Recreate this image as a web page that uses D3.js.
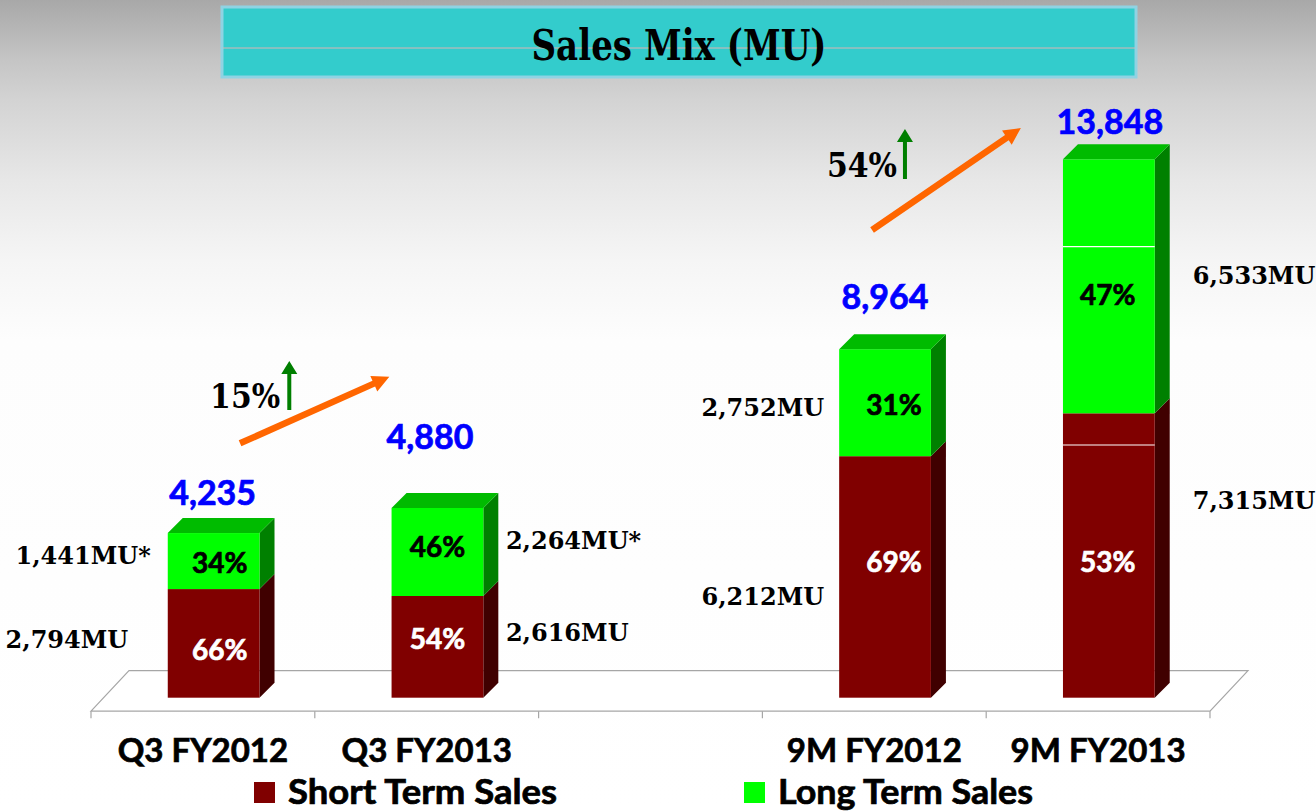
<!DOCTYPE html>
<html><head><meta charset="utf-8">
<script src="https://cdn.jsdelivr.net/npm/d3@7/dist/d3.min.js"></script>
<style>html,body{margin:0;padding:0;background:#fff;overflow:hidden}</style>
</head><body><svg id="chart" width="1316" height="811"></svg>
<script>
// ---------------- DATA ----------------
const title = "Sales Mix (MU)";
const categories = ["Q3 FY2012", "Q3 FY2013", "", "9M FY2012", "9M FY2013"];
const barCategories = ["Q3 FY2012", "Q3 FY2013", "9M FY2012", "9M FY2013"];
const seriesNames = ["Short Term Sales", "Long Term Sales"];
const shortTerm = [2794, 2616, 6212, 7315];
const longTerm = [1441, 2264, 2752, 6533];
const totals = [4235, 4880, 8964, 13848];
const totalLabels = ["4,235", "4,880", "8,964", "13,848"];
const shortPct = ["66%", "54%", "69%", "53%"];
const longPct = ["34%", "46%", "31%", "47%"];
const shortLabels = ["2,794MU", "2,616MU", "6,212MU", "7,315MU"];
const longLabels = ["1,441MU*", "2,264MU*", "2,752MU", "6,533MU"];
const growthLabels = ["15%", "54%"];
const growthFrom = ["Q3 FY2012", "9M FY2012"];
const growthTo = ["Q3 FY2013", "9M FY2013"];
const yDomain = [0, 14000];
const lastBarLines = [6500, 11600];

// ---------------- LAYOUT ----------------
const W = 1316, H = 811;
const colors = {
  redFront: "#800000", redSide: "#400000",
  greenFront: "#00ff00", greenSide: "#008000", greenTop: "#00bb00",
  blue: "#0000ff", orange: "#ff6600", upGreen: "#007f00"
};
const depth = { dx: 15, dy: -15 };
const sansFont = "Lato, 'Open Sans', sans-serif";
const serifFont = "'DejaVu Serif', serif";

// percent label offsets (from bar front center / segment middle)
const pctDx = [6, 0, 9, -1];
const pctDyLong = [12, 5, 12, 19];
const pctDyShort = [17, 2, -5, 16];
// MU label layout
const muSide = ["left", "right", "left", "right"];
const muGapLong = [17, 7.6, 15, 23];
const muGapShort = [39.5, 7.6, 15, 23];
const muDyLong = [3, -3, 13, -2];
const muDyShort = [5, -6, 28, -47];
// total labels
const totDx = [-1, -7.5, 0, 1];
const totRise = [27.7, 59, 40, 25];
// growth annotations (relative to bands / values)
const growthLayout = [
  { x0f: 0.666, v0: 6543, x1f: 0.333, v1: 8256, labelF: 0.845, labelV: 7451, upF: 0.886, upV0: 7400, upV1: 8660 },
  { x0f: 0.49, v0: 12029, x1f: 0.155, v1: 14653, labelF: 0.601, labelV: 13392, upF: 0.637, upV0: 13341, upV1: 14627 }
];

const svg = d3.select("#chart");

// background gradient
const defs = svg.append("defs");
const bg = defs.append("linearGradient").attr("id", "bg")
  .attr("gradientUnits", "userSpaceOnUse").attr("x1", 0).attr("y1", 0).attr("x2", 0).attr("y2", H);
[[0, "#a8a8a8"], [60, "#c5c5c5"], [100, "#d3d3d3"], [180, "#e7e7e7"], [260, "#f5f5f5"], [340, "#fdfdfd"], [811, "#ffffff"]]
  .forEach(([o, c]) => bg.append("stop").attr("offset", o / H).attr("stop-color", c));
svg.append("rect").attr("width", W).attr("height", H).attr("fill", "url(#bg)");

// title box
svg.append("rect").attr("x", 222).attr("y", 7).attr("width", 914).attr("height", 70)
  .attr("fill", "#33cccc").attr("stroke", "#8fd3e3").attr("stroke-width", 3);
svg.append("line").attr("x1", 223).attr("x2", 1135).attr("y1", 48).attr("y2", 48)
  .attr("stroke", "#d9b5b5").attr("stroke-width", 1);
svg.append("text").attr("x", 679).attr("y", 59.5).attr("text-anchor", "middle")
  .attr("font-family", serifFont).attr("font-weight", "bold").attr("font-size", 42)
  .attr("textLength", 295).attr("lengthAdjust", "spacingAndGlyphs")
  .attr("fill", "#000").text(title);

// scales
const x = d3.scaleBand().domain(categories).range([91, 1210]).paddingInner(0).paddingOuter(0);
const y = d3.scaleLinear().domain(yDomain).range([697.7, 153.4]);
const bw = x.bandwidth();
const barX = c => x(c) + bw * 0.343;
const barW = bw * 0.41;

// helper for heavy sans text
function sans(sel, size, fill) {
  return sel.attr("font-family", sansFont).attr("font-weight", "bold").attr("font-size", size)
    .attr("fill", fill).attr("stroke", fill).attr("stroke-width", 0.7).attr("paint-order", "stroke");
}

// floor
const fy = y(0) + 13.5, by = y(0) - 27, fdx = 38;
const [r0, r1] = x.range();
svg.append("path")
  .attr("d", `M${r0},${fy}L${r0 + fdx},${by}L${r1 + fdx},${by}L${r1},${fy}Z`)
  .attr("fill", "#ffffff").attr("stroke", "#a6a6a6").attr("stroke-width", 1.2);
const tickXs = categories.map(c => x(c)).concat([r1]);
svg.selectAll(".tick").data(tickXs).join("line")
  .attr("x1", d => d).attr("x2", d => d).attr("y1", fy).attr("y2", fy + 7)
  .attr("stroke", "#a6a6a6").attr("stroke-width", 1.2);

// bars
function box(g, x0, w, yb, yt, front, side, top) {
  const { dx, dy } = depth;
  g.append("path").attr("d", `M${x0 + w},${yb}L${x0 + w + dx},${yb + dy}L${x0 + w + dx},${yt + dy}L${x0 + w},${yt}Z`).attr("fill", side);
  g.append("rect").attr("x", x0).attr("y", yt).attr("width", w).attr("height", yb - yt).attr("fill", front);
  if (top) g.append("path").attr("d", `M${x0},${yt}L${x0 + dx},${yt + dy}L${x0 + w + dx},${yt + dy}L${x0 + w},${yt}Z`).attr("fill", top);
}
const barsG = svg.append("g");
barCategories.forEach((c, i) => {
  const g = barsG.append("g");
  const x0 = barX(c);
  box(g, x0, barW, y(0), y(shortTerm[i]), colors.redFront, colors.redSide, null);
  box(g, x0, barW, y(shortTerm[i]), y(shortTerm[i] + longTerm[i]), colors.greenFront, colors.greenSide, colors.greenTop);
});
// white lines on the last bar
svg.selectAll(".wl").data(lastBarLines).join("line")
  .attr("x1", barX(barCategories[3])).attr("x2", barX(barCategories[3]) + barW)
  .attr("y1", d => y(d)).attr("y2", d => y(d)).attr("stroke", "#ffffff").attr("stroke-width", 1.2);

// labels
barCategories.forEach((c, i) => {
  const cx = barX(c) + barW / 2 + pctDx[i];
  const midS = (y(0) + y(shortTerm[i])) / 2;
  const midL = (y(shortTerm[i]) + y(totals[i])) / 2;
  sans(svg.append("text").attr("x", cx).attr("y", midL + pctDyLong[i]).attr("text-anchor", "middle"), 28, "#000").text(longPct[i]);
  sans(svg.append("text").attr("x", cx).attr("y", midS + pctDyShort[i]).attr("text-anchor", "middle"), 28, "#fff").text(shortPct[i]);
  // MU labels
  const left = muSide[i] === "left";
  const anchor = left ? "end" : "start";
  const baseX = left ? barX(c) : barX(c) + barW + depth.dx;
  const sgn = left ? -1 : 1;
  svg.append("text").attr("x", baseX + sgn * muGapLong[i]).attr("y", midL + muDyLong[i]).attr("text-anchor", anchor)
    .attr("font-family", serifFont).attr("font-weight", "bold").attr("font-size", 24).attr("fill", "#000").text(longLabels[i]);
  svg.append("text").attr("x", baseX + sgn * muGapShort[i]).attr("y", midS + muDyShort[i]).attr("text-anchor", anchor)
    .attr("font-family", serifFont).attr("font-weight", "bold").attr("font-size", 24).attr("fill", "#000").text(shortLabels[i]);
  // totals
  sans(svg.append("text").attr("x", barX(c) + barW / 2 + totDx[i]).attr("y", y(totals[i]) - totRise[i]).attr("text-anchor", "middle"), 34, colors.blue).text(totalLabels[i]);
});

// x-axis labels
sans(svg.selectAll(".xl").data(categories.filter(c => c)).join("text")
  .attr("x", d => x(d) + bw / 2).attr("y", 762).attr("text-anchor", "middle"), 33, "#000").text(d => d);

// legend
const legendX = [254, 744];
const legendTextW = [269, 255];
const legendColors = [colors.redFront, colors.greenFront];
seriesNames.forEach((s, i) => {
  svg.append("rect").attr("x", legendX[i]).attr("y", 782).attr("width", 21).attr("height", 21).attr("fill", legendColors[i]);
  sans(svg.append("text").attr("x", legendX[i] + 34).attr("y", 804)
    .attr("textLength", legendTextW[i]).attr("lengthAdjust", "spacingAndGlyphs"), 34, "#000").text(s);
});

// growth annotations
function arrowPath(x0, y0, x1, y1, shaft, headL, headW) {
  const L = Math.hypot(x1 - x0, y1 - y0), ux = (x1 - x0) / L, uy = (y1 - y0) / L, px = -uy, py = ux;
  const bx = x1 - ux * headL, byy = y1 - uy * headL;
  const p = [
    [x0 + px * shaft / 2, y0 + py * shaft / 2], [bx + px * shaft / 2, byy + py * shaft / 2],
    [bx + px * headW / 2, byy + py * headW / 2], [x1, y1],
    [bx - px * headW / 2, byy - py * headW / 2], [bx - px * shaft / 2, byy - py * shaft / 2],
    [x0 - px * shaft / 2, y0 - py * shaft / 2]
  ];
  return "M" + p.map(q => q.join(",")).join("L") + "Z";
}
growthLabels.forEach((g, i) => {
  const L = growthLayout[i];
  const xa = x(growthFrom[i]) + L.x0f * bw, ya = y(L.v0);
  const xb = x(growthTo[i]) + L.x1f * bw, yb = y(L.v1);
  svg.append("path").attr("d", arrowPath(xa, ya, xb, yb, 6.5, 17, 17)).attr("fill", colors.orange);
  const ux = x(growthFrom[i]) + L.upF * bw;
  svg.append("path").attr("d", arrowPath(ux, y(L.upV0), ux, y(L.upV1), 4, 13, 16)).attr("fill", colors.upGreen);
  svg.append("text").attr("x", x(growthFrom[i]) + L.labelF * bw).attr("y", y(L.labelV)).attr("text-anchor", "end")
    .attr("font-family", serifFont).attr("font-weight", "bold").attr("font-size", 33)
    .attr("textLength", 70).attr("lengthAdjust", "spacingAndGlyphs").attr("fill", "#000").text(g);
});
</script></body></html>
